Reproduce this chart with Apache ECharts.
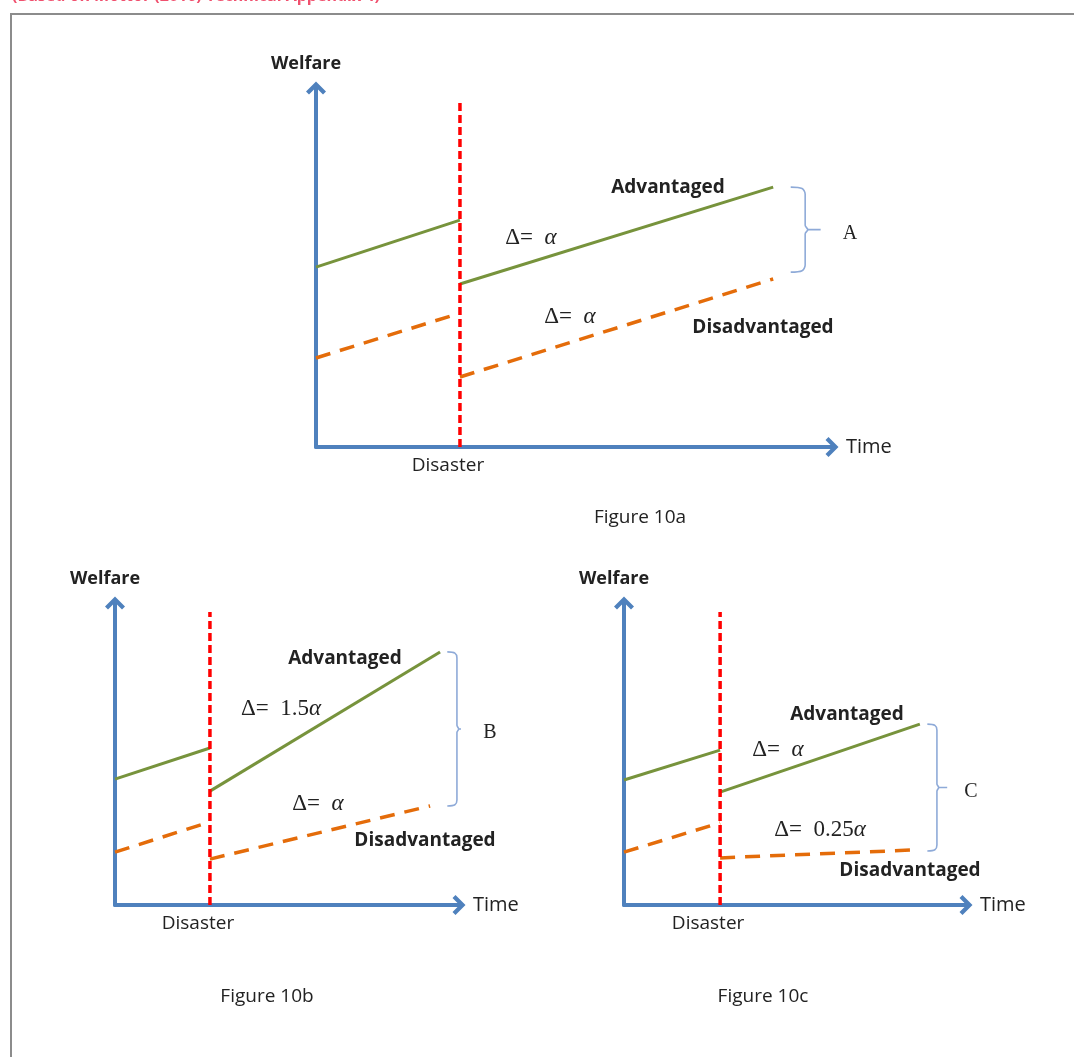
<!DOCTYPE html>
<html>
<head>
<meta charset="utf-8">
<script src="https://cdn.jsdelivr.net/npm/echarts@6/dist/echarts.min.js"></script>
<style>
html,body{margin:0;padding:0;background:#fff;}
#chart{width:1074px;height:1057px;}
</style>
</head>
<body>
<div id="chart"></div>
<script>
// ---- data (time units 0-10, welfare units 0-10) ----
const panelNames = ['a', 'b', 'c'];
const figureTitles = ['Figure 10a', 'Figure 10b', 'Figure 10c'];
const disasterT = [2.79, 2.76, 2.81];
const disasterTop = [9.67, 9.70, 9.70];
const advPre = [[5.01, 6.32], [4.17, 5.20], [4.14, 5.13]];   // welfare at t=0 and at disaster
const advPost = [[4.54, 7.24], [3.77, 8.38], [3.74, 5.99]];  // welfare just after disaster and at end
const advEndT = [8.86, 9.45, 8.65];
const disPre = [[2.48, 3.73], [1.75, 2.75], [1.75, 2.72]];
const disPost = [[1.95, 4.68], [1.52, 3.28], [1.56, 1.82]];
const disEndT = [8.86, 9.16, 8.42];
const bracketT = [9.48, 9.94, 9.15];
const bracketTop = [7.24, 8.38, 5.99];
const bracketBottom = [4.87, 3.28, 1.79];
const bracketLabels = ['A', 'B', 'C'];
const deltaAdvCoef = ['', '1.5', ''];
const deltaDisCoef = ['', '', '0.25'];
const xAxisName = 'Time';
const yAxisName = 'Welfare';
const eventLabel = 'Disaster';
const advLabel = 'Advantaged';
const disLabel = 'Disadvantaged';
const sourceNote = '(Based on Mottor (2016) Technical Appendix 4)';

// ---- layout (pixels) ----
const grids = [
  {left: 316, top: 88, width: 516, height: 359},
  {left: 115, top: 603, width: 344, height: 302},
  {left: 624, top: 603, width: 342, height: 302}
];
const textPos = [
  {adv: [668, 188], dA: [531, 238], dD: [570, 317], dis: [763, 328], br: [850, 234], fig: [640, 518]},
  {adv: [345, 659], dA: [281, 709], dD: [318, 804], dis: [425, 841], br: [490, 733], fig: [267, 997]},
  {adv: [847, 715], dA: [778, 750], dD: [820, 830], dis: [910, 871], br: [971, 792], fig: [763, 997]}
];

const C_AXIS = '#4f81bd', C_ADV = '#77933c', C_DIS = '#e46c0a', C_RED = '#ff0000', C_BR = '#8eaad8';
const SANS = '"Open Sans", "Noto Sans", sans-serif';
const SERIF = '"Liberation Serif", "DejaVu Serif", serif';
const arrowPath = 'path://M0,10 L10,0 L20,10 L17,13 L10,6 L3,13 Z';

const xAxes = [], yAxes = [], series = [], graphics = [];

graphics.push({type: 'rect', shape: {x: 11, y: 14, width: 1200, height: 1200},
  style: {fill: 'none', stroke: '#8c8c8c', lineWidth: 2}, z: -1});
graphics.push({type: 'text', x: 12, y: -12, style: {text: sourceNote, fill: '#f0506e',
  font: 'bold 16px ' + SANS}});

panelNames.forEach((p, i) => {
  xAxes.push({
    gridIndex: i, type: 'value', min: 0, max: 10,
    splitLine: {show: false}, axisTick: {show: false},
    axisLine: {show: true, onZero: false, lineStyle: {color: C_AXIS, width: 4},
      symbol: ['none', arrowPath], symbolSize: [20, 13]},
    axisLabel: {customValues: [disasterT[i]], formatter: () => eventLabel, margin: 9,
      color: '#222', fontSize: 19, fontFamily: SANS, padding: [0, 24, 0, 0]},
    name: xAxisName, nameLocation: 'end', nameGap: 14,
    nameTextStyle: {color: '#222', fontSize: 20, fontFamily: SANS, verticalAlign: 'middle', padding: [0, 0, 4, 0]}
  });
  yAxes.push({
    gridIndex: i, type: 'value', min: 0, max: 10,
    splitLine: {show: false}, axisTick: {show: false}, axisLabel: {show: false},
    axisLine: {show: true, onZero: false, lineStyle: {color: C_AXIS, width: 4},
      symbol: ['none', arrowPath], symbolSize: [20, 13]},
    name: yAxisName, nameLocation: 'end', nameGap: 15,
    nameTextStyle: {color: '#222', fontSize: 18, fontWeight: 'bold', fontFamily: SANS, padding: [0, 20, 0, 0]}
  });
  const base = {type: 'line', xAxisIndex: i, yAxisIndex: i, showSymbol: false, symbol: 'none',
    silent: true, clip: false, animation: false};
  const dT = disasterT[i];
  series.push(Object.assign({}, base, {data: [[0, advPre[i][0]], [dT, advPre[i][1]]],
    lineStyle: {color: C_ADV, width: 3}}));
  series.push(Object.assign({}, base, {data: [[dT, advPost[i][0]], [advEndT[i], advPost[i][1]]],
    lineStyle: {color: C_ADV, width: 3}}));
  series.push(Object.assign({}, base, {data: [[0, disPre[i][0]], [dT, disPre[i][1]]],
    lineStyle: {color: C_DIS, width: 3.5, type: [15, 10]}}));
  series.push(Object.assign({}, base, {data: [[dT, disPost[i][0]], [disEndT[i], disPost[i][1]]],
    lineStyle: {color: C_DIS, width: 3.5, type: [15, 10]}}));
  series.push(Object.assign({}, base, {data: [[dT, 0], [dT, disasterTop[i]]],
    lineStyle: {color: C_RED, width: 3.5, type: [8, 4]}, z: 5}));
  const bx = bracketT[i], bt = bracketTop[i], bb = bracketBottom[i], bm = (bt + bb) / 2;
  series.push(Object.assign({}, base, {data: [[bx - 0.28, bt], [bx - 0.06, bt - 0.04], [bx, bt - 0.2],
    [bx, bm + 0.12], [bx + 0.05, bm], [bx, bm - 0.12], [bx, bb + 0.2], [bx - 0.06, bb + 0.04], [bx - 0.28, bb]],
    smooth: 0.3, lineStyle: {color: C_BR, width: 1.6}}));
  series.push(Object.assign({}, base, {data: [[bx + 0.05, bm], [bx + 0.3, bm]],
    lineStyle: {color: C_BR, width: 1.6}}));

  const tp = textPos[i];
  const txt = (pos, text, font) => graphics.push({type: 'text', x: pos[0], y: pos[1],
    style: {text: text, font: font, fill: '#222', align: 'center', verticalAlign: 'middle'}});
  txt(tp.adv, advLabel, 'bold 19px ' + SANS);
  txt(tp.dis, disLabel, 'bold 19px ' + SANS);
  txt(tp.fig, figureTitles[i], '19px ' + SANS);
  txt(tp.br, bracketLabels[i], '20px ' + SERIF);
  const delta = (pos, coef) => graphics.push({type: 'text', x: pos[0], y: pos[1],
    style: {text: '{n|Δ=  ' + coef + '}{a|α}', fill: '#222', align: 'center', verticalAlign: 'middle',
      rich: {n: {font: '23px ' + SERIF, fill: '#222'}, a: {font: 'italic 23px ' + SERIF, fill: '#222'}}}});
  delta(tp.dA, deltaAdvCoef[i]);
  delta(tp.dD, deltaDisCoef[i]);
});

const chart = echarts.init(document.getElementById('chart'), null, {renderer: 'canvas'});
chart.setOption({
  backgroundColor: '#fff',
  animation: false,
  grid: grids,
  xAxis: xAxes,
  yAxis: yAxes,
  series: series,
  graphic: graphics
});
</script>
</body>
</html>
